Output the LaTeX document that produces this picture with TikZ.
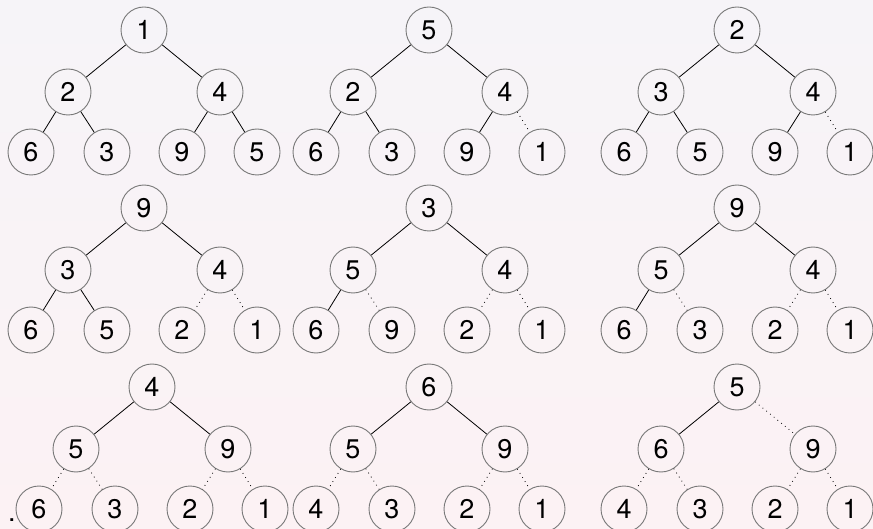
\documentclass[tikz,border=0pt]{standalone}
\usepackage{fontspec}
\setmainfont{TeX Gyre Heros}
\usetikzlibrary{positioning}
\definecolor{BgTop}{RGB}{246,244,248}
\definecolor{BgBottom}{RGB}{252,242,244}
\definecolor{KeyRing}{RGB}{120,120,120}
\tikzset{
  key/.style={circle,draw=KeyRing,line width=0.45pt,minimum size=23pt,
              inner sep=0pt,font=\fontsize{13.5}{15}\selectfont},
  link/.style={draw=black,line width=0.4pt},
  cut/.style={draw=black,line width=0.4pt,dotted},
}
% seven keys of one heap, root at #2
\newcommand{\heapnodes}[9]{%
  \begin{scope}[shift={#2}]
    \node[key] (#1r) at (0,0) {#3};
    \node[key] (#1a) at (-76,62) {#4};
    \node[key] (#1b) at (76,62) {#5};
    \node[key] (#1c) at (-113,122) {#6};
    \node[key] (#1d) at (-37,122) {#7};
    \node[key] (#1e) at (38,122) {#8};
    \node[key] (#1f) at (113,122) {#9};
  \end{scope}}

\begin{document}
\begin{tikzpicture}[x=0.5pt,y=-0.5pt]
  \shade[top color=BgTop,bottom color=BgBottom] (0,0) rectangle (873,529);
  \useasboundingbox (0,0) rectangle (873,529);

  % first row
  \heapnodes{A}{(144,30)}{1}{2}{4}{6}{3}{9}{5}
  \heapnodes{B}{(429,30)}{5}{2}{4}{6}{3}{9}{1}
  \heapnodes{C}{(737,30)}{2}{3}{4}{6}{5}{9}{1}

  \draw[link] (Ar) -- (Aa) (Ar) -- (Ab) (Aa) -- (Ac) (Aa) -- (Ad) (Ab) -- (Ae) (Ab) -- (Af);
  \draw[link] (Br) -- (Ba) (Br) -- (Bb) (Ba) -- (Bc) (Ba) -- (Bd) (Bb) -- (Be);
  \draw[cut] (Bb) -- (Bf);
  \draw[link] (Cr) -- (Ca) (Cr) -- (Cb) (Ca) -- (Cc) (Ca) -- (Cd) (Cb) -- (Ce);
  \draw[cut] (Cb) -- (Cf);

  % second row
  \heapnodes{D}{(144,208)}{9}{3}{4}{6}{5}{2}{1}
  \heapnodes{E}{(429,208)}{3}{5}{4}{6}{9}{2}{1}
  \heapnodes{F}{(737,208)}{9}{5}{4}{6}{3}{2}{1}

  \draw[link] (Dr) -- (Da) (Dr) -- (Db) (Da) -- (Dc) (Da) -- (Dd);
  \draw[cut] (Db) -- (De) (Db) -- (Df);
  \draw[link] (Er) -- (Ea) (Er) -- (Eb) (Ea) -- (Ec);
  \draw[cut] (Ea) -- (Ed) (Eb) -- (Ee) (Eb) -- (Ef);
  \draw[link] (Fr) -- (Fa) (Fr) -- (Fb) (Fa) -- (Fc);
  \draw[cut] (Fa) -- (Fd) (Fb) -- (Fe) (Fb) -- (Ff);

  % third row
  \node[anchor=base,font=\fontsize{13.5}{15}\selectfont] (lead) at (12,521) {.};
  \heapnodes{G}{(152,387)}{4}{5}{9}{6}{3}{2}{1}
  \heapnodes{H}{(429,387)}{6}{5}{9}{4}{3}{2}{1}
  \heapnodes{K}{(737,387)}{5}{6}{9}{4}{3}{2}{1}

  \draw[link] (Gr) -- (Ga) (Gr) -- (Gb);
  \draw[cut] (Ga) -- (Gc) (Ga) -- (Gd) (Gb) -- (Ge) (Gb) -- (Gf);
  \draw[link] (Hr) -- (Ha) (Hr) -- (Hb);
  \draw[cut] (Ha) -- (Hc) (Ha) -- (Hd) (Hb) -- (He) (Hb) -- (Hf);
  \draw[link] (Kr) -- (Ka);
  \draw[cut] (Kr) -- (Kb) (Ka) -- (Kc) (Ka) -- (Kd) (Kb) -- (Ke) (Kb) -- (Kf);
\end{tikzpicture}
\end{document}
